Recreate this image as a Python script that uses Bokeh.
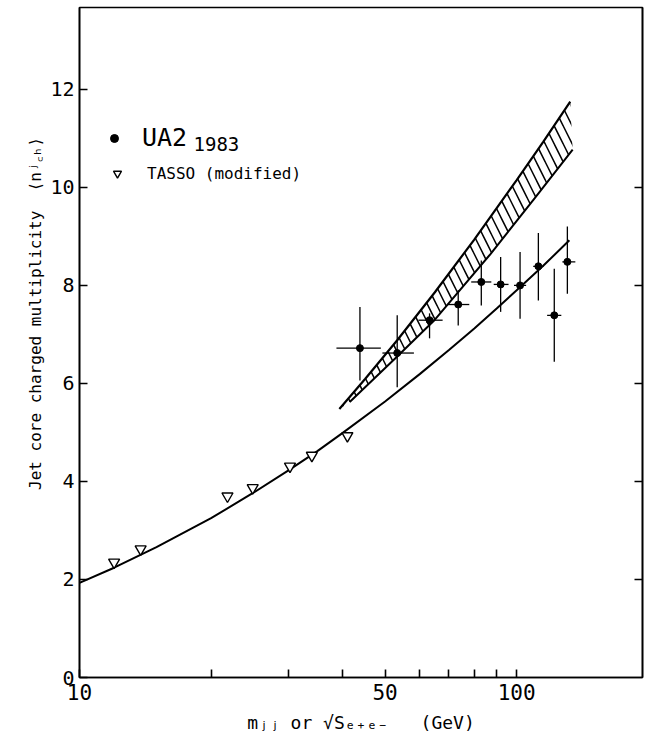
import math
from bokeh.plotting import figure
from bokeh.models import (Range1d, FixedTicker, LinearAxis, Label, Legend, LegendItem,
                          PrintfTickFormatter, CustomJSTickFormatter)
from bokeh.embed import file_html
from bokeh.resources import INLINE

# ---------------- data ----------------
# UA2 1983 jet core charged multiplicity
ua2_x   = [43.8, 53.3, 63.2, 73.5, 83.0, 91.9, 101.8, 112.1, 121.9, 130.6]
ua2_y   = [6.72, 6.62, 7.29, 7.61, 8.07, 8.02, 8.00, 8.39, 7.39, 8.48]
ua2_ylo = [6.06, 5.92, 6.92, 7.18, 7.59, 7.46, 7.32, 7.69, 6.44, 7.83]
ua2_yhi = [7.56, 7.39, 7.43, 7.90, 8.51, 8.58, 8.68, 9.07, 8.34, 9.20]
ua2_xlo = [38.7, 49.3, 59.6, 69.4, 78.7, 88.6, 98.6, 109.1, 117.4, 127.2]
ua2_xhi = [48.9, 58.2, 67.7, 77.9, 87.5, 95.8, 105.1, 115.2, 126.5, 136.2]

# TASSO (modified)
tasso_x = [12.0, 13.8, 21.8, 24.9, 30.3, 34.0, 41.0]
tasso_y = [2.35, 2.62, 3.70, 3.87, 4.31, 4.53, 4.93]

# lower solid curve
curve_x = [10, 12, 15, 20, 25, 30, 35, 40, 50, 60, 70, 80, 90, 100, 115, 132]
curve_y = [1.93, 2.24, 2.66, 3.25, 3.77, 4.22, 4.62, 4.99, 5.63, 6.19, 6.68, 7.12, 7.53, 7.90, 8.40, 8.92]

# hatched band: upper and lower edges
band_top_x = [39.3, 45, 53.3, 65, 79.9, 100, 115, 132.6]
band_top_y = [5.48, 6.09, 6.88, 7.86, 8.93, 10.15, 10.93, 11.75]
band_bot_x = [41.5, 53.3, 65, 87.1, 110, 134.3]
band_bot_y = [5.62, 6.55, 7.30, 8.64, 9.78, 10.77]

# axes
y_ticks = [0, 2, 4, 6, 8, 10, 12]
y_right_ticks = [2, 4, 6, 8, 10]
x_major_ticks = [10, 50, 100]
x_minor_ticks = [20, 30, 40, 60, 70, 80, 90]

FONT = "DejaVu Sans Mono"
LW = 1.6
NB = "\u00a0"

p = figure(width=647, height=744, x_axis_type="log",
           x_range=Range1d(10, 194), y_range=Range1d(0, 13.67),
           output_backend="svg", toolbar_location=None,
           min_border_left=79, min_border_right=5, min_border_top=7, min_border_bottom=67)
p.xgrid.visible = False
p.ygrid.visible = False
p.background_fill_color = "white"
p.border_fill_color = "white"
p.outline_line_color = "black"
p.outline_line_width = LW

xa = p.xaxis[0]
xa.ticker = FixedTicker(ticks=x_major_ticks, minor_ticks=x_minor_ticks)
xa.formatter = PrintfTickFormatter(format="%d")
xa.major_tick_in = 8
xa.major_tick_out = 0
xa.minor_tick_in = 8
xa.minor_tick_out = 0
xa.axis_line_width = LW
xa.major_tick_line_width = LW
xa.minor_tick_line_width = LW
xa.minor_tick_line_color = "black"
xa.major_label_text_font = FONT
xa.major_label_text_font_size = "21px"
xa.major_label_text_color = "black"
xa.major_label_standoff = 6
xa.axis_label = ("m\u2c7c\u2c7c" + NB + "or" + NB + "\u221aS\u2091\u208a\u2091\u208b"
                 + NB * 3 + "(GeV)")
xa.axis_label_text_font = FONT
xa.axis_label_text_font_size = "18px"
xa.axis_label_text_font_style = "normal"
xa.axis_label_text_color = "black"
xa.axis_label_standoff = 9

ya = p.yaxis[0]
ya.ticker = FixedTicker(ticks=y_ticks, minor_ticks=[])
ya.major_tick_in = 8
ya.major_tick_out = 0
ya.minor_tick_in = 0
ya.minor_tick_out = 0
ya.axis_line_width = LW
ya.major_tick_line_width = LW
ya.major_label_text_font = FONT
ya.major_label_text_font_size = "20px"
ya.major_label_text_color = "black"
ya.major_label_standoff = 5
ya.axis_label = NB * 6 + "Jet core charged multiplicity" + NB * 2 + "\u27e8n\u02b2\ua700\u2095\u27e9"
ya.axis_label_text_font = FONT
ya.axis_label_text_font_size = "16px"
ya.axis_label_text_font_style = "normal"
ya.axis_label_text_color = "black"
ya.axis_label_standoff = 2

ra = LinearAxis(ticker=FixedTicker(ticks=y_right_ticks, minor_ticks=[]),
                formatter=CustomJSTickFormatter(code="return ''"),
                major_label_standoff=0,
                major_tick_in=8, major_tick_out=0, minor_tick_in=0, minor_tick_out=0,
                axis_line_width=LW, major_tick_line_width=LW)
p.add_layout(ra, "right")

# hatched band
band_x = band_top_x + band_bot_x[::-1]
band_y = band_top_y + band_bot_y[::-1]
p.patch(band_x, band_y, fill_alpha=0, line_alpha=0, hatch_pattern="\\",
        hatch_color="black", hatch_weight=1.5, hatch_scale=18)
p.line(band_top_x, band_top_y, line_color="black", line_width=2.2)
p.line(band_bot_x, band_bot_y, line_color="black", line_width=2.0)

# lower curve
p.line(curve_x, curve_y, line_color="black", line_width=2.0)

# UA2 error bars
p.segment(x0=ua2_x, x1=ua2_x, y0=ua2_ylo, y1=ua2_yhi, line_color="black", line_width=1.3)
p.segment(x0=ua2_xlo, x1=ua2_xhi, y0=ua2_y, y1=ua2_y, line_color="black", line_width=1.3)

ua2_r = p.scatter(ua2_x, ua2_y, marker="circle", size=7, color="black")
tasso_r = p.scatter(tasso_x, tasso_y, marker="inverted_triangle", size=11,
                    fill_color="white", line_color="black", line_width=1.4)

# legends
leg1 = Legend(items=[LegendItem(label="UA2", renderers=[ua2_r])],
              location=(25, 525), padding=0, margin=0, spacing=0,
              glyph_width=20, glyph_height=20, label_standoff=18,
              label_text_font=FONT, label_text_font_size="25px", label_text_color="black",
              border_line_alpha=0, background_fill_alpha=0)
leg2 = Legend(items=[LegendItem(label="TASSO (modified)", renderers=[tasso_r])],
              location=(28, 494), padding=0, margin=0, spacing=0,
              glyph_width=20, glyph_height=20, label_standoff=20,
              label_text_font=FONT, label_text_font_size="16px", label_text_color="black",
              border_line_alpha=0, background_fill_alpha=0)
p.add_layout(leg1)
p.add_layout(leg2)

p.add_layout(Label(x=114, y=534, x_units="screen", y_units="screen", text="1983",
                   text_font=FONT, text_font_size="19px", text_align="left",
                   text_baseline="alphabetic", text_color="black"))

open("out.html", "w").write(file_html(p, INLINE))
